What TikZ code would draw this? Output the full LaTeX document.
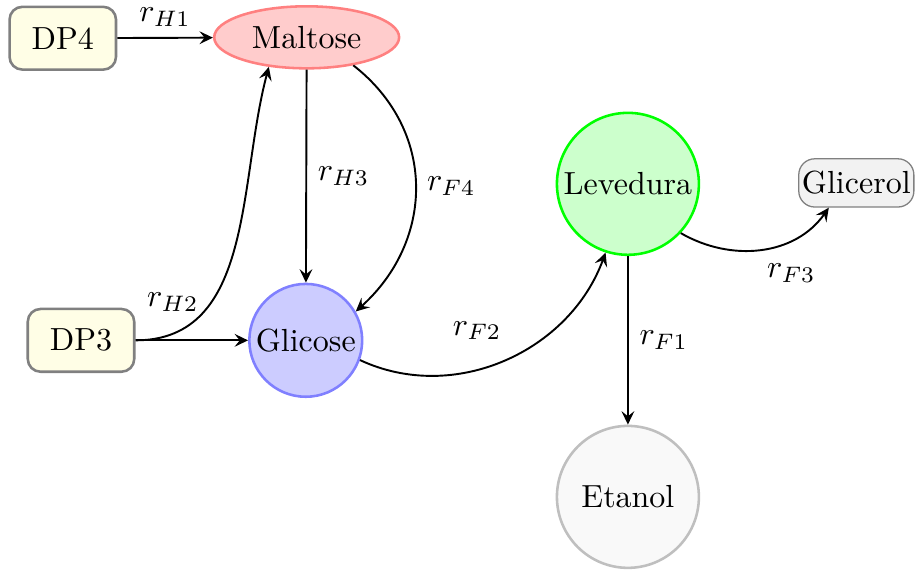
\documentclass[tikz,border=0pt]{standalone}
\usetikzlibrary{shapes.geometric,arrows.meta}
\begin{document}
\begin{tikzpicture}[>={Stealth[length=4.2pt,width=4pt,inset=1.6pt]}, semithick,
  dp/.style={draw=gray, thick, fill=yellow!10, rounded corners=4pt,
    minimum width=1.17cm, minimum height=0.69cm},
  maltose/.style={ellipse, draw=red!50, thick, fill=red!20},
  glicose/.style={circle, draw=blue!50, thick, fill=blue!20,
    inner sep=1pt, minimum size=1.24cm},
  levedura/.style={circle, draw=green, thick, fill=green!20,
    inner sep=1pt, minimum size=1.56cm},
  etanol/.style={circle, draw=gray!50, thick, fill=gray!5,
    inner sep=1pt, minimum size=1.56cm},
  glicerol/.style={draw=gray, thin, fill=gray!10, rounded corners=5pt,
    inner xsep=1pt, minimum height=0.53cm}]

\useasboundingbox (0,0) rectangle (10.055,-6.253);

% substratos
\node [dp] (DP4) at (0.69,-0.42) {DP4};
\node [dp] (DP3) at (0.89,-3.74) {DP3};
\node [maltose] (Maltose) at (3.37,-0.41) {Maltose};
\node [glicose] (Glicose) at (3.36,-3.74) {Glicose};

% levedura e produtos
\node [levedura] (Levedura) at (6.90,-2.02) {Levedura};
\node [glicerol] (Glicerol) at (9.41,-2.01) {Glicerol};
\node [etanol] (Etanol) at (6.90,-5.46) {Etanol};

% hidrolise
\draw [->] (DP4) -- node [above] {$r_{H1}$} (Maltose);
\draw [->] (DP3) -- (Glicose);
\draw [->] (DP3.east) to [out=0,in=-105]
  node [pos=0.2,above left,xshift=2mm] {$r_{H2}$} (Maltose.218);
\draw [->] (Maltose) -- node [right] {$r_{H3}$} (Glicose);

% fermentacao
\draw [->] (Maltose.-31) to [out=-38,in=42,looseness=1.1]
  node [right] {$r_{F4}$} (Glicose.30);
\draw [->] (Glicose.-20) to [out=-25,in=-110]
  node [pos=0.4,above=2mm] {$r_{F2}$} (Levedura.-108);
\draw [->] (Levedura) -- node [right] {$r_{F1}$} (Etanol);
\draw [->] (Levedura.-43) to [out=-30,in=-125]
  node [pos=0.6,below=2pt,xshift=1.6mm] {$r_{F3}$} (Glicerol.-138);

\end{tikzpicture}
\end{document}
